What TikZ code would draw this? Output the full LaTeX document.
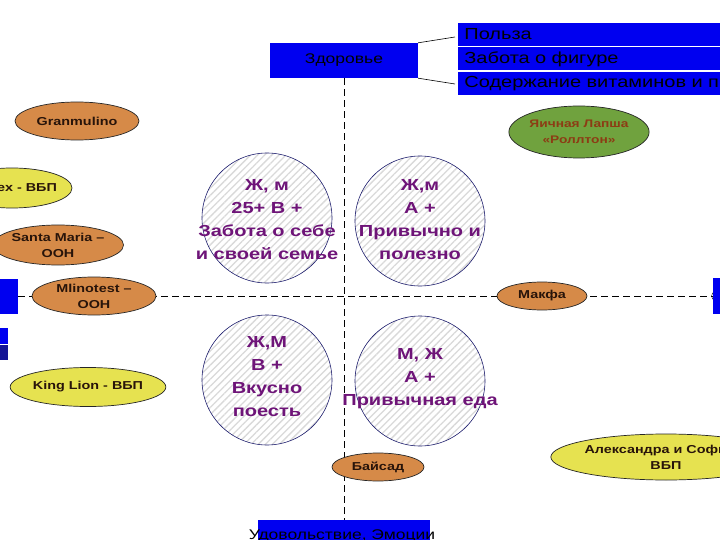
\documentclass[tikz,border=0pt]{standalone}
\usepackage{fontspec}
\setmainfont[FakeStretch=1.25]{Liberation Sans}
\usepackage{xcolor}
\usetikzlibrary{shapes.geometric, patterns.meta, positioning}
\definecolor{boxblue}{RGB}{0,0,240}
\definecolor{darkblue}{RGB}{20,20,150}
\definecolor{brandorange}{RGB}{214,138,72}
\definecolor{brandyellow}{RGB}{230,226,80}
\definecolor{brandgreen}{RGB}{112,162,62}
\definecolor{segpurple}{RGB}{110,20,120}
\definecolor{segnavy}{RGB}{30,30,110}
\definecolor{brandtext}{RGB}{40,20,10}
\definecolor{noodlebrown}{RGB}{140,60,20}
\begin{document}
\begin{tikzpicture}[x=1pt, y=-1pt,
    axisline/.style={line width=0.8pt, dash pattern=on 7pt off 4pt},
    axisbox/.style={rectangle, fill=boxblue, inner sep=0pt, minimum height=35pt},
    listrow/.style={rectangle, fill=boxblue, draw=white, line width=0.8pt, anchor=north west,
      minimum height=24pt, inner xsep=7pt, inner ysep=0pt, text width=255pt, align=left,
      font=\fontsize{16}{18}\selectfont},
    brand/.style={ellipse, draw=black!85, line width=0.7pt, inner sep=0pt, align=center,
      text=brandtext, font=\fontsize{11.5}{16}\selectfont\bfseries},
    orangebrand/.style={brand, fill=brandorange},
    yellowbrand/.style={brand, fill=brandyellow},
    segment/.style={circle, draw=segnavy, line width=0.6pt, minimum size=130pt, inner sep=0pt,
      preaction={fill=white}, pattern={Lines[angle=45, distance=5pt, line width=1.3pt]},
      pattern color=gray!30},
    segtext/.style={inner sep=0pt, align=center, text=segpurple,
      font=\fontsize{16}{23}\selectfont\bfseries}]
  \useasboundingbox (0,0) rectangle (720,540);
  \clip (0,0) rectangle (720,540);
  \fill[white] (0,0) rectangle (720,540);

  % axis ends
  \node[axisbox, minimum width=148pt, font=\fontsize{14}{16}\selectfont] (health) at (344,60.5) {Здоровье};
  \node[axisbox, minimum width=172pt] (pleasure) at (344,537.5) {};
  \node[anchor=north, inner sep=0pt, font=\fontsize{14}{16}\selectfont] (pleasuretext) at (342,530) {Удовольствие, Эмоции};
  \node[axisbox, minimum width=48pt] (leftend) at (-6,296) {};
  \draw[black] (716,296) circle (4.5);
  \node[axisbox, minimum width=30pt, minimum height=36pt] (rightend) at (728,296) {};
  \fill[boxblue] (-20,328) rectangle (8,344);
  \fill[darkblue] (-20,344) rectangle (8,360);
  \draw[white, line width=0.8pt] (-20,344) -- (8,344);

  % list of needs
  \node[listrow] (benefit) at (457,22) {Польза};
  \node[listrow] (figure) at (457,46.5) {Забота о фигуре};
  \node[listrow] (vitamins) at (457,71) {Содержание витаминов и п};
  \coordinate (listtop) at (455,37);
  \coordinate (listbottom) at (455,84);
  \draw[line width=0.6pt] (health.north east) -- (listtop);
  \draw[line width=0.6pt] (health.south east) -- (listbottom);

  % axes
  \draw[axisline] (health.south) -- (pleasure.north);
  \draw[axisline] (leftend.east) -- (rightend.west);

  % segments
  \node[segment] (careseg) at (267,218) {};
  \node[segtext] (caresegtext) at (267,220) {Ж, м\\25+ В +\\Забота о себе\\и своей семье};
  \node[segment] (habitseg) at (420,221) {};
  \node[segtext] (habitsegtext) at (420,220) {Ж,м\\А +\\Привычно и\\полезно};
  \node[segment] (tasteseg) at (267,380) {};
  \node[segtext] (tastesegtext) at (267,377) {Ж,М\\В +\\Вкусно\\поесть};
  \node[segment] (foodseg) at (420,381) {};
  \node[segtext] (foodsegtext) at (420,379) {М, Ж\\А +\\Привычная еда};

  % brands
  \node[orangebrand, minimum width=124pt, minimum height=38pt] (granmulino) at (77,121) {Granmulino};
  \node[yellowbrand, minimum width=120pt, minimum height=40pt] (mallex) at (12,188) {};
  \node[inner sep=0pt, text=brandtext, font=\fontsize{11.5}{16}\selectfont\bfseries] (mallextext) at (27,188) {ex - ВБП};
  \node[orangebrand, minimum width=118pt, minimum height=40pt] (santamaria) at (58,245) {Santa Maria –\\ООН};
  \node[orangebrand, minimum width=124pt, minimum height=38pt] (mlinotest) at (94,296) {Mlinotest –\\ООН};
  \node[yellowbrand, minimum width=126pt, minimum height=39pt] (kinglion) at (88,387) {King Lion - ВБП};
  \node[brand, fill=brandgreen, text=noodlebrown, minimum width=132pt, minimum height=52pt,
    font=\fontsize{11}{16}\selectfont\bfseries] (rollton) at (579,132) {Яичная Лапша\\«Роллтон»};
  \node[orangebrand, minimum width=90pt, minimum height=28pt] (makfa) at (542,296) {Макфа};
  \node[orangebrand, minimum width=92pt, minimum height=28pt] (baisad) at (378,467) {Байсад};
  \node[yellowbrand, minimum width=174pt, minimum height=46pt] (aleksandra) at (666,457) {Александра и София –\\ВБП};
\end{tikzpicture}
\end{document}
